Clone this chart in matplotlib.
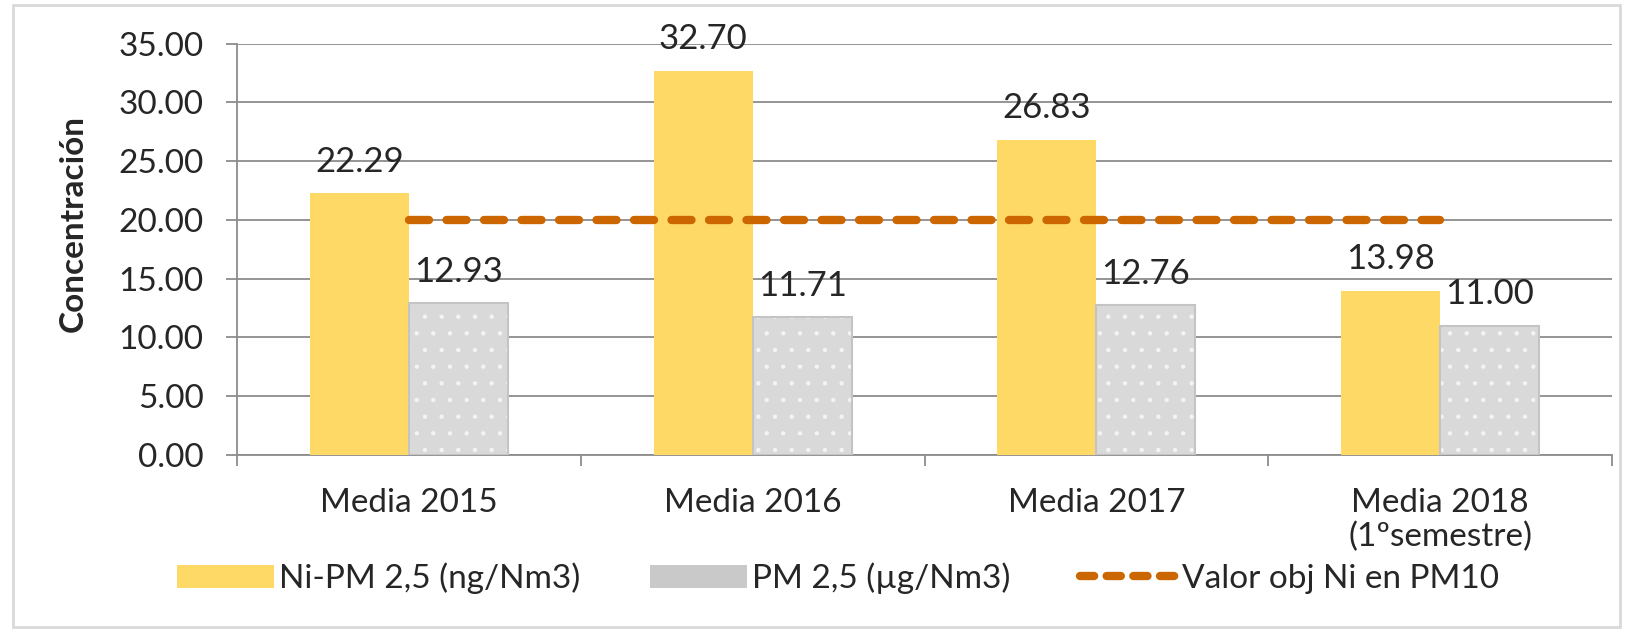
import matplotlib
matplotlib.use('Agg')
import matplotlib.pyplot as plt
from matplotlib.patches import Patch, Rectangle
from matplotlib.lines import Line2D
import numpy as np

# data -------------------------------------------------------------------------
categories = ['Media 2015', 'Media 2016', 'Media 2017', 'Media 2018\n(1ºsemestre)']
ni_pm25 = [22.29, 32.70, 26.83, 13.98]
pm25 = [12.93, 11.71, 12.76, 11.00]
valor_obj = [20, 20, 20, 20]
y_ticks = [0, 5, 10, 15, 20, 25, 30, 35]

# style ------------------------------------------------------------------------
plt.rcParams['font.family'] = ['Lato', 'DejaVu Sans']
plt.rcParams['hatch.linewidth'] = 0.7
text_col = '#262626'
grid_col = '#8c8c8c'
yellow = '#ffd966'
grey = '#d9d9d9'
orange = '#cc6600'
fs = 24

fig = plt.figure(figsize=(16.3, 6.32), dpi=100)
ax = fig.add_axes([0.1454, 0.280, 0.8436, 0.651])

x = np.arange(len(categories))
w = 0.288

ax.bar(x - w / 2, ni_pm25, w, color=yellow, linewidth=0, zorder=3)
# grey bars with small white pattern
ax.bar(x + w / 2, pm25, w, color=grey, edgecolor='#f4f4f4', hatch='.',
       linewidth=0, zorder=3)
ax.bar(x + w / 2, pm25, w, fill=False, edgecolor='#c4c4c4', linewidth=1.5, zorder=4)

ax.plot(x, valor_obj, color=orange, linewidth=6, dashes=(2.4, 2.1),
        dash_capstyle='round', zorder=5)

# data labels
for xi, v in zip(x - w / 2, ni_pm25):
    ax.annotate(f'{v:.2f}', (xi, v), xytext=(0, 11), textcoords='offset points',
                ha='center', va='bottom', fontsize=fs + 1, color=text_col)
for xi, v in zip(x + w / 2, pm25):
    ax.annotate(f'{v:.2f}', (xi, v), xytext=(0, 11), textcoords='offset points',
                ha='center', va='bottom', fontsize=fs + 1, color=text_col)

# axes
ax.set_ylim(0, 35)
ax.set_xlim(-0.5, len(categories) - 0.5)
ax.set_yticks(y_ticks)
ax.set_yticklabels([f'{t:.2f}' for t in y_ticks])
ax.set_xticks(x)
ax.set_xticklabels(categories, linespacing=1.15)
ax.set_xticks(np.arange(len(categories) + 1) - 0.5, minor=True)
ax.tick_params(axis='x', which='major', length=0, pad=24, labelsize=fs, labelcolor=text_col)
ax.tick_params(axis='x', which='minor', length=8, width=1.3, color=grid_col)
ax.tick_params(axis='y', length=8, width=1.3, color=grid_col, pad=16,
               labelsize=fs, labelcolor=text_col)
ax.grid(axis='y', color=grid_col, linewidth=1.3, zorder=0)
ax.set_axisbelow(True)
for s in ['top', 'right']:
    ax.spines[s].set_visible(False)
for s in ['left', 'bottom']:
    ax.spines[s].set_color(grid_col)
    ax.spines[s].set_linewidth(1.3)

fig.text(0.045, 0.647, 'Concentración', rotation=90, ha='center', va='center',
         fontsize=fs, fontweight='bold', color=text_col)

# legend
handles = [Patch(facecolor=yellow, edgecolor='none'),
           Patch(facecolor='#c9c9c9', edgecolor='none'),
           Line2D([0], [0], color=orange, linewidth=6, dashes=(1.7, 1.5),
                  dash_capstyle='round')]
labels = ['Ni-PM 2,5 (ng/Nm3)', 'PM 2,5 (µg/Nm3)', 'Valor obj Ni en PM10']
fig.legend(handles, labels, loc='center', bbox_to_anchor=(0.514, 0.085), ncol=3,
           frameon=False, fontsize=fs, handlelength=2.9, handleheight=0.7,
           handletextpad=0.15, columnspacing=2.1, labelcolor=text_col)

# outer frame
fig.patches.append(Rectangle((0.008, 0.008), 0.986, 0.984, transform=fig.transFigure,
                             fill=False, edgecolor='#d9d9d9', linewidth=2))

plt.savefig('out.png', dpi=100)
